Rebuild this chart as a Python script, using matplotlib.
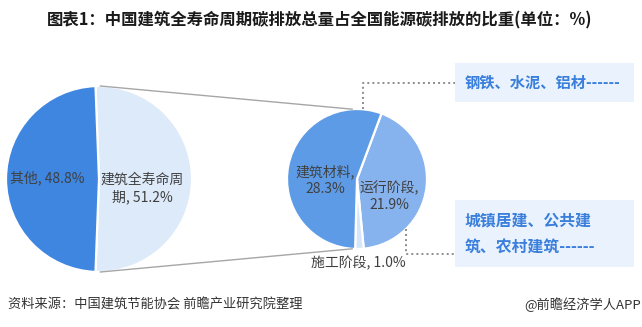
import numpy as np
import matplotlib
matplotlib.use("Agg")
import matplotlib.pyplot as plt
from matplotlib.patches import Rectangle

plt.rcParams['font.family'] = ['Noto Sans CJK SC', 'DejaVu Sans']

# Primary pie: share of national energy-related carbon emissions
main_labels = ["其他", "建筑全寿命周期"]
main_values = [48.8, 51.2]

# Secondary pie: breakdown of the building life-cycle share
sub_labels = ["建筑材料", "运行阶段", "施工阶段"]
sub_values = [28.3, 21.9, 1.0]

title = "图表1：中国建筑全寿命周期碳排放总量占全国能源碳排放的比重(单位：%)"
source = "资料来源：中国建筑节能协会 前瞻产业研究院整理"
credit = "@前瞻经济学人APP"
note_material = "钢铁、水泥、铝材------"
note_operation = "城镇居建、公共建\n筑、农村建筑------"

W, H = 642, 327
fig = plt.figure(figsize=(W / 100, H / 100), dpi=100)
ax = fig.add_axes([0, 0, 1, 1])


def py(y):
    """Top-down pixel row to axis y."""
    return H - y


# geometry
c1 = np.array([99.0, py(179)])
r1 = 93.0
c2 = np.array([357.0, py(179)])
r2 = 70.0

label_color = "#404040"
wedge_kw = dict(edgecolor="white", linewidth=1.6)

# primary pie: building share on the right, split symmetric about horizontal
share = main_values[1] / sum(main_values) * 360
start1 = 90 + (share - 180) / 2
ax.pie([main_values[1], main_values[0]], colors=["#DDEAFA", "#3F86E0"],
       startangle=start1, counterclock=False, center=tuple(c1), radius=r1,
       wedgeprops=wedge_kw, frame=True)

# secondary pie: operation, construction, then materials, clockwise
start2 = 69.5
ax.pie([sub_values[1], sub_values[2], sub_values[0]],
       colors=["#86B2EE", "#D6E6FA", "#5E9BE6"],
       startangle=start2, counterclock=False, center=tuple(c2), radius=r2,
       wedgeprops=wedge_kw, frame=True)
ax.set_xlim(0, W)
ax.set_ylim(0, H)
ax.set_aspect('equal')
ax.axis('off')


def on_circle(c, r, deg):
    a = np.deg2rad(deg)
    return c + r * np.array([np.cos(a), np.sin(a)])


# connector lines between the pies
for a1, a2 in [(start1 - 3, 94.0), (start1 - share + 3, 266.0)]:
    p = on_circle(c1, r1, a1)
    q = on_circle(c2, r2, a2)
    ax.plot([p[0], q[0]], [p[1], q[1]], color="#A6A6A6", lw=1.0, zorder=1)

# pie labels
fs = 10
ax.text(c1[0] - 51.5, c1[1] + 1, f"{main_labels[0]}, {main_values[0]}%",
        ha="center", va="center", fontsize=fs, color=label_color)
ax.text(c1[0] + 43, c1[1] - 9, f"建筑全寿命周\n期, {main_values[1]}%",
        ha="center", va="center", fontsize=fs, color=label_color, linespacing=1.25)
ax.text(c2[0] - 32, c2[1] - 1.5, f"{sub_labels[0]},\n{sub_values[0]}%",
        ha="center", va="center", fontsize=fs, color=label_color, linespacing=1.25)
ax.text(c2[0] + 32, c2[1] - 17, f"{sub_labels[1]},\n{sub_values[1]}%",
        ha="center", va="center", fontsize=fs, color=label_color, linespacing=1.25)
ax.text(c2[0] + 1, py(263), f"{sub_labels[2]}, {sub_values[2]}%",
        ha="center", va="center", fontsize=fs, color=label_color)

# callout boxes
box_color = "#EAF2FD"
note_color = "#3A7FDB"
ax.add_patch(Rectangle((455, py(102)), 179, 39, facecolor=box_color, edgecolor="none", zorder=0))
ax.add_patch(Rectangle((455, py(267)), 179, 67, facecolor=box_color, edgecolor="none", zorder=0))
ax.text(465, py(83), note_material, ha="left", va="center", fontsize=11,
        fontweight="bold", color=note_color)
ax.text(465, py(234.5), note_operation, ha="left", va="center", fontsize=11.4,
        fontweight="bold", color=note_color, linespacing=1.85)

# dotted leaders from the slices to the boxes
dot_kw = dict(color="#8C8C8C", lw=1.4, linestyle=(0, (1, 1.6)), zorder=3)
p_top = on_circle(c2, r2, 85.0)
ax.plot([p_top[0], p_top[0], 455], [p_top[1], py(83), py(83)], **dot_kw)
p_bot = on_circle(c2, r2, -45.6)
ax.plot([p_bot[0], p_bot[0], 455], [p_bot[1], py(254), py(254)], **dot_kw)

# title and footer
ax.text(320, py(20), title, ha="center", va="center", fontsize=11.8,
        fontweight="bold", color="#1A1A1A")
ax.text(8, py(305), source, ha="left", va="center", fontsize=9.5, color="#333333")
ax.text(W - 1, py(305), credit, ha="right", va="center", fontsize=9.5, color="#333333")

fig.savefig("out.png", dpi=100)
